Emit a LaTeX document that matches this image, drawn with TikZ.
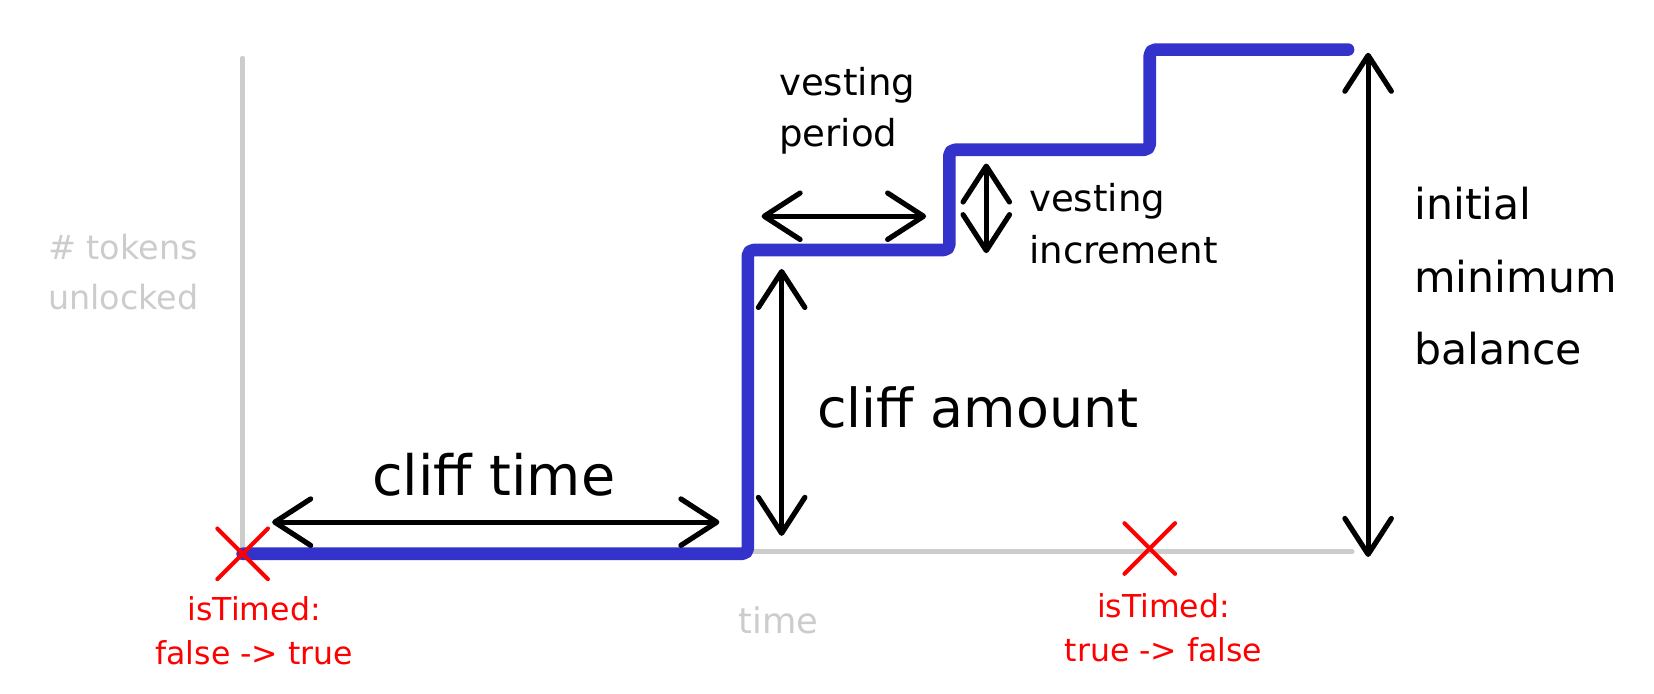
\documentclass[tikz,border=0pt]{standalone}
\usepackage{fontspec}
\setmainfont{DejaVu Sans}
\usetikzlibrary{arrows.meta}
\definecolor{stairblue}{RGB}{51,51,204}
\definecolor{axisgray}{RGB}{204,204,204}
\definecolor{markred}{RGB}{255,0,0}

\begin{document}
\begin{tikzpicture}[x=0.01cm,y=-0.01cm,line cap=round,line join=round]
    \tikzstyle{axis}=[draw=axisgray,line width=1.2pt]
    \tikzstyle{stair}=[draw=stairblue,line width=3.4pt,rounded corners=1.5pt]
    \tikzstyle{span}=[draw=black,line width=1.4pt,{Straight Barb[length=3.4mm,width=4.4mm,round]}-{Straight Barb[length=3.4mm,width=4.4mm,round]}]
    \tikzstyle{cross}=[draw=markred,line width=1.1pt]
    \tikzstyle{label}=[inner sep=0pt,align=left]
    \tikzstyle{flag}=[inner sep=0pt,align=center,text=markred,font=\fontsize{8.5}{12}\selectfont]
    \useasboundingbox (0,0) rectangle (1568,657);

    % axes
    \coordinate (O) at (230,525);
    \coordinate (Ytop) at (230,55);
    \coordinate (Xend) at (1282,523);
    \draw[axis] (Ytop) -- (O);
    \draw[axis] (230,523) -- (Xend);

    % staircase
    \foreach \num/\x/\y in {0/230/525, 1/709/525, 2/709/237, 3/900/237, 4/900/142, 5/1090/142, 6/1090/47, 7/1278/47}
        \coordinate (S-\num) at (\x,\y);
    \draw[stair] (S-0) -- (S-1) -- (S-2) -- (S-3) -- (S-4) -- (S-5) -- (S-6) -- (S-7);

    % dimension arrows
    \foreach \name/\xa/\ya/\xb/\yb in {time/258/495/682/495, amount/741/255/741/508, period/722/205/878/205, incr/935/155/935/240, total/1297/50/1297/528}
    {
        \coordinate (A-\name) at (\xa,\ya);
        \coordinate (B-\name) at (\xb,\yb);
        \draw[span] (A-\name) -- (B-\name);
    }

    \node[label,font=\fontsize{15}{18}\selectfont] (cliff-time) at (468,450) {cliff time};
    \node[label,font=\fontsize{14.5}{18}\selectfont] (cliff-amount) at (927,386) {cliff amount};
    \node[label,anchor=west,font=\fontsize{10}{14}\selectfont] (vest-period) at (738,105) {vesting\\period};
    \node[label,anchor=west,font=\fontsize{10}{14}\selectfont] (vest-incr) at (975,212) {vesting\\increment};
    \node[label,anchor=west,font=\fontsize{11.5}{19.5}\selectfont] (init-bal) at (1340,262) {initial\\minimum\\balance};
    \node[label,anchor=west,text=axisgray,font=\fontsize{9}{13.3}\selectfont] (ylabel) at (45,258) {\# tokens\\unlocked};
    \node[label,text=axisgray,font=\fontsize{9.5}{12}\selectfont] (xlabel) at (738,588) {time};

    % isTimed switches
    \foreach \num/\x/\y in {1/230/525, 2/1090/520}
    {
        \coordinate (X-\num) at (\x,\y);
        \draw[cross] ([shift={(-24,-24)}]X-\num) -- ([shift={(24,24)}]X-\num);
        \draw[cross] ([shift={(-24,24)}]X-\num) -- ([shift={(24,-24)}]X-\num);
    }
    \node[flag] (flag-on) at (241,598) {isTimed:\\false -> true};
    \node[flag] (flag-off) at (1103,595) {isTimed:\\true -> false};
\end{tikzpicture}
\end{document}
